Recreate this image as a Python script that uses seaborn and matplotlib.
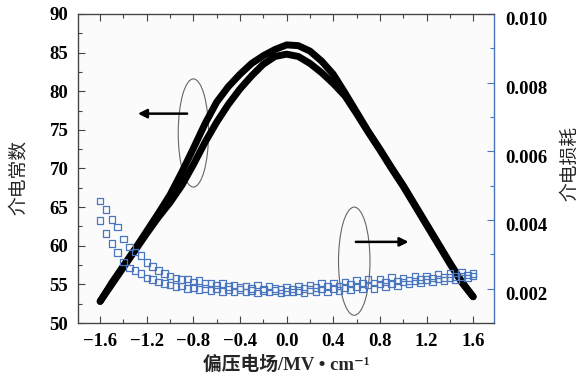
import numpy as np
import pandas as pd
import matplotlib
matplotlib.use("Agg")
import matplotlib.pyplot as plt
import matplotlib.transforms as mtransforms
from matplotlib.patches import Ellipse
from matplotlib.ticker import MultipleLocator, FuncFormatter
import seaborn as sns

# dielectric constant, two sweep branches
field_eps = [-1.6, -1.5, -1.4, -1.3, -1.2, -1.1, -1.0, -0.9, -0.8, -0.7, -0.6,
             -0.5, -0.4, -0.3, -0.2, -0.1, 0.0, 0.1, 0.2, 0.3, 0.4, 0.5,
             0.6, 0.7, 0.8, 0.9, 1.0, 1.1, 1.2, 1.3, 1.4, 1.5, 1.6]
eps_up = [52.8, 55.2, 57.4, 59.6, 61.9, 64.2, 66.6, 69.5, 72.6, 75.8, 78.6,
          80.6, 82.2, 83.6, 84.6, 85.4, 86.0, 85.9, 85.2, 83.9, 82.2, 79.8,
          77.3, 74.8, 72.5, 70.1, 67.8, 65.3, 62.8, 60.3, 57.8, 55.4, 53.4]
eps_down = [52.8, 55.0, 57.2, 59.4, 61.6, 63.7, 65.6, 67.8, 70.5, 73.4, 76.0,
            78.3, 80.3, 82.0, 83.5, 84.5, 84.8, 84.5, 83.6, 82.4, 81.0, 79.4,
            77.1, 74.7, 72.4, 70.0, 67.7, 65.2, 62.7, 60.2, 57.7, 55.3, 53.4]

# dielectric loss (x 1e-3), two branches
field_loss = [-1.60, -1.55, -1.50, -1.45, -1.40, -1.35, -1.30, -1.25, -1.20, -1.15,
              -1.10, -1.05, -1.00, -0.95, -0.90, -0.85, -0.80, -0.75, -0.70, -0.65,
              -0.60, -0.55, -0.50, -0.45, -0.40, -0.35, -0.30, -0.25, -0.20, -0.15,
              -0.10, -0.05, 0.00, 0.05, 0.10, 0.15, 0.20, 0.25, 0.30, 0.35,
              0.40, 0.45, 0.50, 0.55, 0.60, 0.65, 0.70, 0.75, 0.80, 0.85,
              0.90, 0.95, 1.00, 1.05, 1.10, 1.15, 1.20, 1.25, 1.30, 1.35,
              1.40, 1.45, 1.50, 1.55, 1.60]
loss_a = [4.56, 4.31, 4.02, 3.79, 3.45, 3.21, 3.07, 2.96, 2.76, 2.64,
          2.53, 2.44, 2.37, 2.31, 2.26, 2.28, 2.19, 2.24, 2.15, 2.17,
          2.10, 2.15, 2.06, 2.10, 2.04, 2.08, 2.01, 2.10, 1.99, 2.06,
          2.01, 1.97, 2.04, 1.99, 2.08, 2.01, 2.10, 2.04, 2.15, 2.06,
          2.17, 2.08, 2.19, 2.13, 2.24, 2.15, 2.26, 2.17, 2.28, 2.19,
          2.33, 2.22, 2.31, 2.24, 2.35, 2.26, 2.37, 2.31, 2.42, 2.33,
          2.44, 2.35, 2.49, 2.40, 2.44]
loss_b = [3.99, 3.61, 3.32, 3.05, 2.78, 2.60, 2.53, 2.44, 2.31, 2.26,
          2.19, 2.15, 2.10, 2.06, 2.08, 2.01, 2.04, 1.97, 2.01, 1.95,
          1.99, 1.92, 1.97, 1.90, 1.97, 1.90, 1.95, 1.88, 1.95, 1.90,
          1.95, 1.88, 1.92, 1.90, 1.95, 1.88, 1.97, 1.92, 1.99, 1.90,
          2.01, 1.95, 2.04, 1.97, 2.06, 1.99, 2.10, 2.01, 2.13, 2.06,
          2.15, 2.08, 2.19, 2.13, 2.22, 2.17, 2.26, 2.19, 2.28, 2.24,
          2.33, 2.26, 2.35, 2.31, 2.37]

blue = "#4a76c0"

sns.set_style("ticks")
plt.rcParams["font.family"] = ["Liberation Serif", "Noto Sans CJK SC", "DejaVu Serif"]

fig = plt.figure(figsize=(5.82, 3.78), dpi=100)
ax = fig.add_axes([0.134, 0.1455, 0.715, 0.8175])
ax.set_facecolor("#fbfbfb")

sns.lineplot(x=field_eps, y=eps_up, ax=ax, color="black", lw=5,
             sort=False, estimator=None)
sns.lineplot(x=field_eps, y=eps_down, ax=ax, color="black", lw=5,
             sort=False, estimator=None)

ax.set_xlim(-1.79, 1.78)
ax.set_ylim(50, 90)

ax2 = ax.twinx()
loss_df = pd.DataFrame({
    "field": field_loss + field_loss,
    "loss": np.array(loss_a + loss_b) * 1e-3,
})
sns.scatterplot(data=loss_df, x="field", y="loss", ax=ax2, marker="s", s=22,
                color=blue, linewidth=0.9)
for coll in ax2.collections:
    coll.set_facecolor("none")
    coll.set_edgecolor(blue)
ax2.set_ylim(0.001, 0.010)

# annotation ellipses and arrows
ax.add_patch(Ellipse((-0.8, 74.6), 0.26, 14, fill=False, ec="#666666", lw=0.8))
ax.add_patch(Ellipse((0.58, 58.0), 0.27, 14, fill=False, ec="#666666", lw=0.8))
ax.annotate("", xy=(-1.30, 77.1), xytext=(-0.83, 77.1),
            arrowprops=dict(arrowstyle="-|>", lw=1.8, color="black", mutation_scale=13))
ax.annotate("", xy=(1.07, 60.5), xytext=(0.57, 60.5),
            arrowprops=dict(arrowstyle="-|>", lw=1.8, color="black", mutation_scale=13))

# ticks
def fmt_x(v, pos):
    if abs(v) < 1e-9:
        v = 0.0
    return f"{v:.1f}".replace("-", "\u2212")

ax.xaxis.set_major_locator(MultipleLocator(0.4))
ax.xaxis.set_minor_locator(MultipleLocator(0.2))
ax.xaxis.set_major_formatter(FuncFormatter(fmt_x))
ax.yaxis.set_major_locator(MultipleLocator(5))
ax.yaxis.set_minor_locator(MultipleLocator(2.5))
ax2.yaxis.set_major_locator(MultipleLocator(0.002))
ax2.yaxis.set_minor_locator(MultipleLocator(0.001))
ax2.yaxis.set_major_formatter(FuncFormatter(lambda v, p: f"{v:.3f}"))

ax.tick_params(which="both", direction="in", top=True, right=False,
               colors="#444444", labelcolor="black", labelsize=13.5, pad=7)
ax.tick_params(which="major", length=5, width=0.8)
ax.tick_params(which="minor", length=3, width=0.8)
ax2.tick_params(which="both", direction="in", colors=blue, labelcolor="black",
                labelsize=13.5, pad=8)
ax2.tick_params(which="major", length=5, width=0.8)
ax2.tick_params(which="minor", length=3, width=0.8)
for lab in ax.get_xticklabels() + ax.get_yticklabels() + ax2.get_yticklabels():
    lab.set_fontweight("bold")

# right-hand labels sit a little below their ticks in the reference
shift = mtransforms.ScaledTranslation(0, -5 / 100, fig.dpi_scale_trans)
for tick in ax2.yaxis.get_major_ticks():
    tick.label2.set_transform(tick.label2.get_transform() + shift)

for side in ["left", "top", "bottom"]:
    ax.spines[side].set_color("#444444")
    ax2.spines[side].set_color("#444444")
ax2.spines["right"].set_color(blue)
for sp in ax2.spines.values():
    sp.set_linewidth(0.9)

ax.set_xlabel("偏压电场/MV • cm\u207b\u00b9", fontsize=13.5, fontweight="bold")
ax.xaxis.set_label_coords(0.5, -0.106)
ax.set_ylabel("介电常数", fontsize=13.5)
ax.yaxis.set_label_coords(-0.12, 0.47)
ax2.set_ylabel("介电损耗", fontsize=13.5)
ax2.yaxis.set_label_coords(1.162, 0.515)

fig.savefig("out.png", dpi=100)
